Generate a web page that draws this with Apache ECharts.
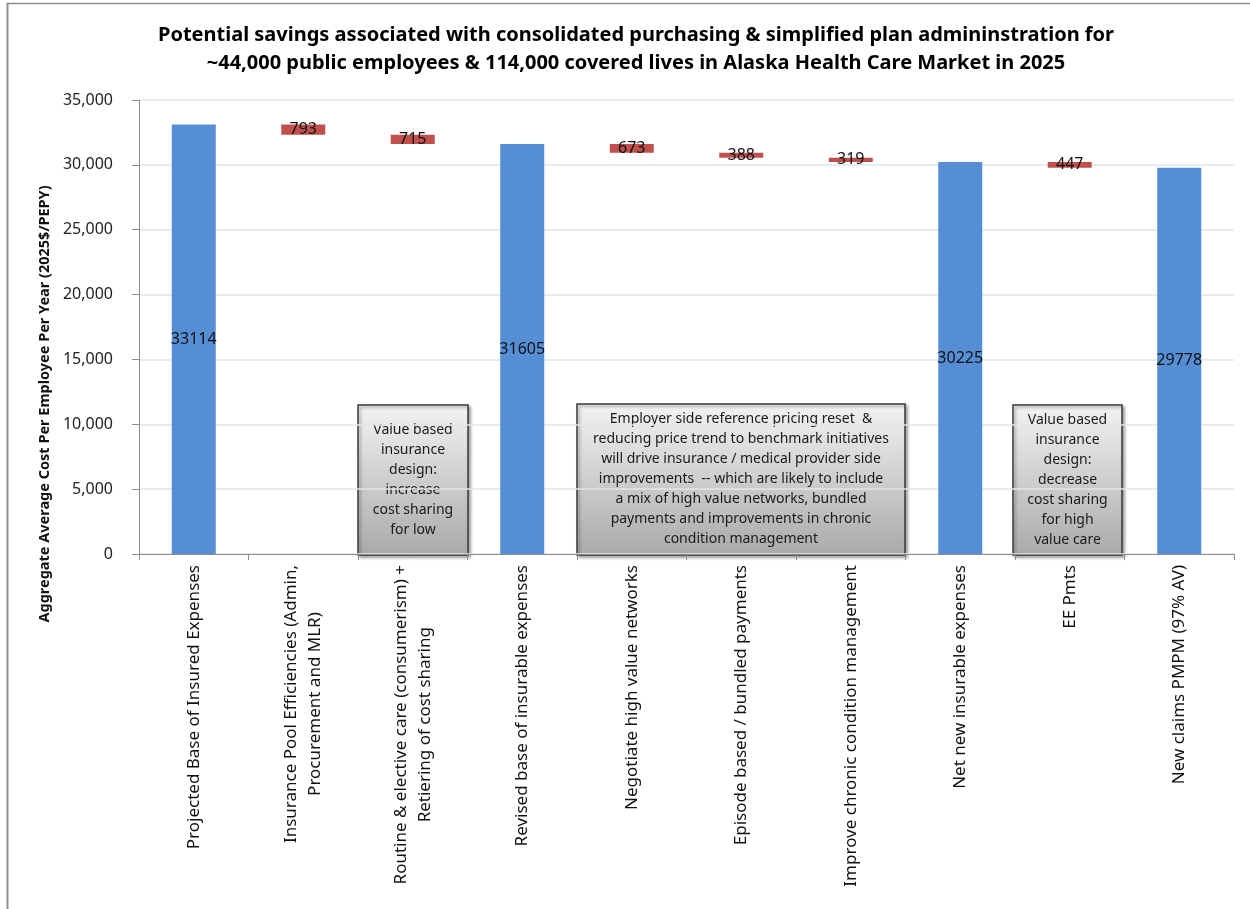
<!DOCTYPE html>
<html>
<head>
<meta charset="utf-8">
<script src="https://cdn.jsdelivr.net/npm/echarts@6/dist/echarts.min.js"></script>
<style>
  html, body { margin: 0; padding: 0; background: #fff; }
  #chart { width: 1250px; height: 909px; }
</style>
</head>
<body>
<div id="chart"></div>
<script>
// Waterfall steps: totals are drawn in blue, savings steps in red
const categories = [
  'Projected Base of Insured Expenses',
  'Insurance Pool Efficiencies (Admin,\nProcurement and MLR)',
  'Routine & elective care (consumerism) +\nRetiering of cost sharing',
  'Revised base of insurable expenses',
  'Negotiate high value networks',
  'Episode based / bundled payments',
  'Improve chronic condition management',
  'Net new insurable expenses',
  'EE Pmts',
  'New claims PMPM (97% AV)'
];
const totals  = [33114, null, null, 31605, null, null, null, 30225, null, 29778];
const savings = [null, 793, 715, null, 673, 388, 319, null, 447, null];
const yTicks = [0, 5000, 10000, 15000, 20000, 25000, 30000, 35000];

const titleLines = [
  'Potential savings associated with consolidated purchasing & simplified plan admininstration for',
  '~44,000 public employees & 114,000 covered lives in Alaska Health Care Market in 2025'
];
const yAxisTitle = 'Aggregate Average Cost Per Employee Per Year (2025$/PEPY)';

const noteLeft = 'Value based\ninsurance\ndesign:\nincrease\ncost sharing\nfor low';
const noteMiddle = 'Employer side reference pricing reset  &\nreducing price trend to benchmark initiatives\nwill drive insurance / medical provider side\nimprovements  -- which are likely to include\na mix of high value networks, bundled\npayments and improvements in chronic\ncondition management';
const noteRight = 'Value based\ninsurance\ndesign:\ndecrease\ncost sharing\nfor high\nvalue care';

// invisible base under each savings step = running total after the step
const base = [];
let running = 0;
for (let i = 0; i < categories.length; i++) {
  if (totals[i] != null) { running = totals[i]; base.push(null); }
  else { running -= savings[i]; base.push(running); }
}

const FONT = '"Noto Sans", "Open Sans", sans-serif';
const chart = echarts.init(document.getElementById('chart'), null, { renderer: 'canvas' });

function noteBox(x, y, w, h, text, fontSize) {
  return {
    type: 'group', x: x, y: y, z: 100,
    children: [
      { type: 'rect', shape: { x: 0, y: 0, width: w, height: h },
        style: {
          fill: new echarts.graphic.LinearGradient(0, 0, 0, 1, [
            { offset: 0, color: '#f3f3f3' }, { offset: 1, color: '#a9a9a9' }
          ]),
          stroke: '#3a3a3a', lineWidth: 1.5,
          shadowBlur: 3, shadowOffsetX: 2, shadowOffsetY: 2, shadowColor: 'rgba(0,0,0,0.35)'
        } },
      { type: 'text', x: w / 2, y: h / 2,
        style: { text: text, fontFamily: FONT, fontSize: fontSize, lineHeight: 20,
                 fill: '#1a1a1a', align: 'center', verticalAlign: 'middle' } }
    ]
  };
}

const option = {
  backgroundColor: '#fff',
  animation: false,
  title: {
    text: titleLines.join('\n'),
    left: 631, top: 16, textAlign: 'center',
    textStyle: { fontFamily: FONT, fontWeight: 'bold', fontSize: 20, lineHeight: 28, color: '#000' }
  },
  grid: { left: 139, right: 16, top: 100, bottom: 355, containLabel: false },
  xAxis: {
    type: 'category',
    data: categories,
    axisLine: { lineStyle: { color: '#8c8c8c', width: 1 } },
    axisTick: { show: true, length: 6, lineStyle: { color: '#8c8c8c' } },
    axisLabel: {
      rotate: 90, interval: 0, margin: 11, color: '#111', fontFamily: FONT, fontSize: 17,
      formatter: v => v.split('\n').map(l => '{c|' + l + '}').join('\n'),
      rich: { c: { align: 'center', fontFamily: FONT, fontSize: 17, color: '#111', lineHeight: 24 } }
    }
  },
  yAxis: {
    type: 'value',
    min: yTicks[0], max: yTicks[yTicks.length - 1], interval: yTicks[1] - yTicks[0],
    axisLine: { show: true, lineStyle: { color: '#8c8c8c' } },
    axisTick: { show: true, length: 7, lineStyle: { color: '#8c8c8c' } },
    splitLine: { lineStyle: { color: '#dfe6ef', width: 1.5 } },
    axisLabel: {
      margin: 26, color: '#222', fontFamily: FONT, fontSize: 16,
      formatter: v => v.toLocaleString('en-US')
    }
  },
  series: [
    { name: 'base', type: 'bar', stack: 'w', data: base, barWidth: 44,
      itemStyle: { color: 'transparent' }, emphasis: { disabled: true }, silent: true },
    { name: 'Totals', type: 'bar', stack: 'w', data: totals, barWidth: 44,
      itemStyle: { color: '#558ed5' },
      label: { show: true, position: 'inside', color: '#111', fontFamily: FONT, fontSize: 16 } },
    { name: 'Savings', type: 'bar', stack: 'w', data: savings, barWidth: 44,
      itemStyle: { color: '#c0504d' },
      label: { show: true, position: 'inside', color: '#111', fontFamily: FONT, fontSize: 16 } }
  ],
  graphic: [
    { type: 'line', shape: { x1: 7.5, y1: 3, x2: 7.5, y2: 909 }, style: { stroke: '#8f8f8f', lineWidth: 2 } },
    { type: 'line', shape: { x1: 7, y1: 3.5, x2: 1250, y2: 3.5 }, style: { stroke: '#8f8f8f', lineWidth: 1.5 } },
    { type: 'text', x: 45, y: 404, rotation: Math.PI / 2,
      style: { text: yAxisTitle, fontFamily: FONT, fontWeight: 'bold', fontSize: 14.5,
               fill: '#111', align: 'center', verticalAlign: 'middle' } },
    noteBox(358, 405, 110, 150, noteLeft, 14),
    noteBox(577, 404, 328, 151, noteMiddle, 14),
    noteBox(1013, 405, 109, 150, noteRight, 14)
  ]
};
chart.setOption(option);
</script>
</body>
</html>
